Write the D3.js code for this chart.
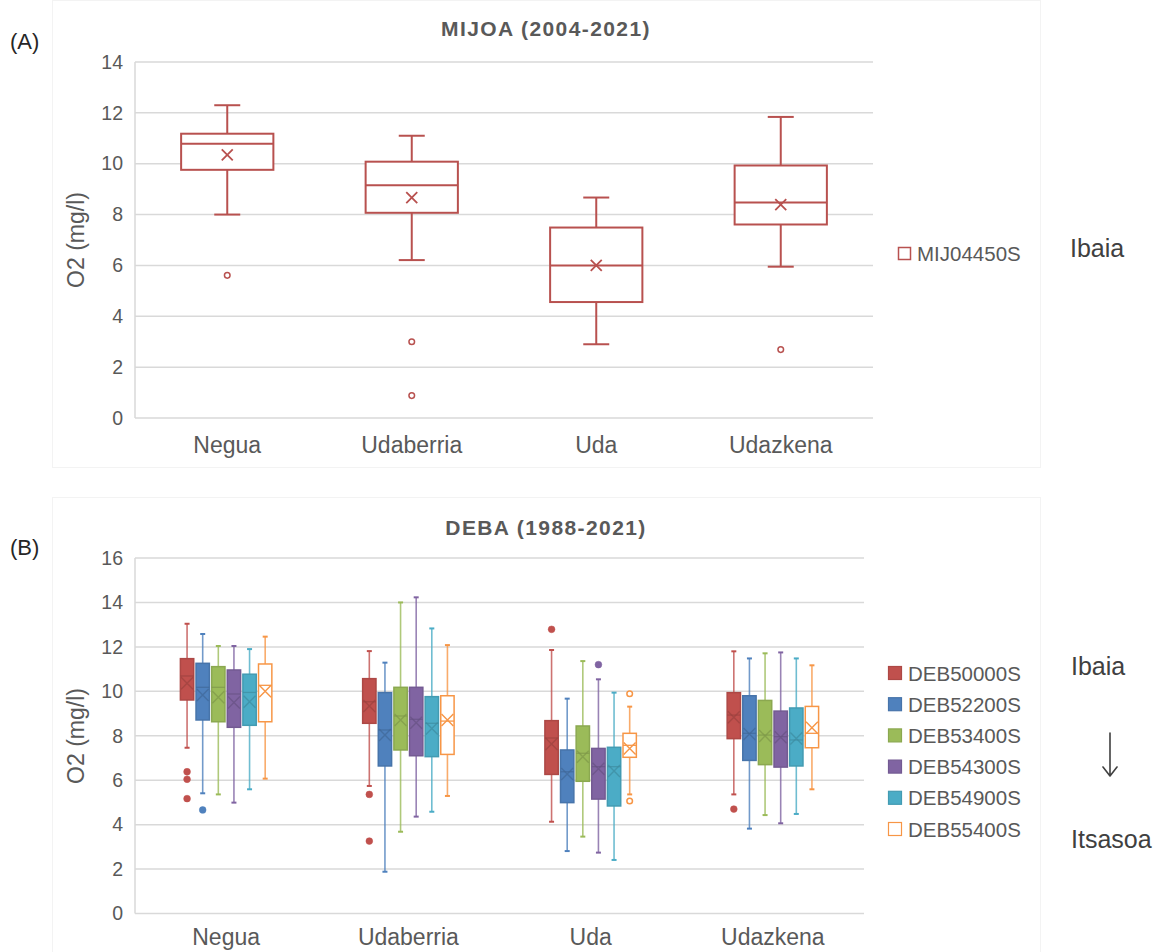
<!DOCTYPE html>
<html>
<head>
<meta charset="utf-8">
<script src="https://cdn.jsdelivr.net/npm/d3@7"></script>
<style>
  html, body { margin: 0; padding: 0; background: #fff; }
  svg { display: block; font-family: "Liberation Sans", Arial, sans-serif; }
</style>
</head>
<body>
<svg id="chart" width="1161" height="952"></svg>
<script>
// Seasons (x categories)
const seasons = ["Negua", "Udaberria", "Uda", "Udazkena"];

// ---- Panel A: MIJOA, one station ----
const mijoaStation = "MIJ04450S";
const mijoaLow     = [8.00, 6.21, 2.90, 5.95];
const mijoaQ1      = [9.76, 8.07, 4.56, 7.61];
const mijoaMedian  = [10.79, 9.15, 6.00, 8.47];
const mijoaQ3      = [11.18, 10.08, 7.49, 9.93];
const mijoaHigh    = [12.30, 11.10, 8.67, 11.84];
const mijoaMean    = [10.35, 8.67, 6.00, 8.39];
const mijoaOutliers = [[5.61], [3.00, 0.88], [], [2.69]];
const mijoaTicks   = [0, 2, 4, 6, 8, 10, 12, 14];

// ---- Panel B: DEBA, six stations (rows) x four seasons (columns) ----
const debaStations = ["DEB50000S", "DEB52200S", "DEB53400S", "DEB54300S", "DEB54900S", "DEB55400S"];
const debaLow = [
  [7.46, 5.74, 4.13, 5.36],
  [5.41, 1.88, 2.81, 3.82],
  [5.36, 3.68, 3.46, 4.43],
  [4.99, 4.36, 2.74, 4.06],
  [5.59, 4.58, 2.41, 4.48],
  [6.07, 5.29, 5.36, 5.59]
];
const debaQ1 = [
  [9.61, 8.56, 6.26, 7.87],
  [8.71, 6.64, 4.99, 6.89],
  [8.63, 7.36, 5.95, 6.70],
  [8.38, 7.10, 5.15, 6.59],
  [8.47, 7.06, 4.84, 6.64],
  [8.63, 7.16, 7.03, 7.46]
];
const debaMedian = [
  [10.69, 9.53, 7.90, 8.93],
  [10.18, 8.26, 6.38, 8.11],
  [10.18, 8.89, 7.21, 8.03],
  [9.88, 8.74, 6.61, 7.96],
  [9.95, 8.56, 6.61, 7.81],
  [10.27, 8.66, 7.57, 8.11]
];
const debaQ3 = [
  [11.47, 10.57, 8.68, 9.94],
  [11.26, 9.94, 7.36, 9.80],
  [11.11, 10.18, 8.44, 9.59],
  [10.96, 10.18, 7.43, 9.11],
  [10.77, 9.76, 7.48, 9.25],
  [11.23, 9.80, 8.11, 9.32]
];
const debaHigh = [
  [13.04, 11.81, 11.86, 11.80],
  [12.58, 11.29, 9.67, 11.48],
  [12.04, 14.00, 11.36, 11.71],
  [12.04, 14.23, 10.54, 11.75],
  [11.90, 12.83, 9.94, 11.48],
  [12.46, 12.08, 9.31, 11.17]
];
const debaMean = [
  [10.36, 9.34, 7.63, 8.83],
  [9.83, 8.03, 6.28, 8.08],
  [9.73, 8.71, 7.06, 7.99],
  [9.50, 8.59, 6.52, 7.93],
  [9.53, 8.33, 6.41, 7.88],
  [10.00, 8.71, 7.43, 8.36]
];
const debaOutliers = [
  [[6.38, 6.04, 5.17], [5.36, 3.26], [12.79], [4.70]],
  [[4.66], [], [], []],
  [[], [], [], []],
  [[], [], [11.20], []],
  [[], [], [], []],
  [[], [], [9.89, 5.06], []]
];
const debaTicks = [0, 2, 4, 6, 8, 10, 12, 14, 16];
const debaColors = ["#c0504d", "#4f81bd", "#9bbb59", "#8064a2", "#4bacc6", "#f79646"];
const debaHollow = [false, false, false, false, false, true];

const svg = d3.select("#chart");
const textGrey = "#595959";
const gridGrey = "#d9d9d9";

// Faint frames around each panel
svg.append("rect").attr("x", 52.5).attr("y", 0.5).attr("width", 988).attr("height", 467)
  .attr("fill", "none").attr("stroke", "#f3f3f3");
svg.append("rect").attr("x", 52.5).attr("y", 497.5).attr("width", 988).attr("height", 470)
  .attr("fill", "none").attr("stroke", "#f3f3f3");

function drawFrame(g, x0, y, ticks, left, right, title, titleY, catY, yMid) {
  // gridlines
  g.append("g").selectAll("line").data(ticks).join("line")
    .attr("x1", left).attr("x2", right)
    .attr("y1", d => y(d)).attr("y2", d => y(d))
    .attr("stroke", gridGrey).attr("stroke-width", 1.5);
  // left axis line
  g.append("line").attr("x1", left).attr("x2", left)
    .attr("y1", y(ticks[ticks.length - 1])).attr("y2", y(0))
    .attr("stroke", gridGrey).attr("stroke-width", 1.5);
  // y tick labels via d3 axis
  const ax = g.append("g").attr("transform", `translate(${left - 12},0)`)
    .call(d3.axisLeft(y).tickValues(ticks).tickSize(0).tickPadding(0));
  ax.select(".domain").remove();
  ax.selectAll("text").attr("fill", textGrey).style("font-size", "19.5px")
    .style("font-family", "Liberation Sans, Arial, sans-serif");
  // x category labels
  const bx = g.append("g").attr("transform", `translate(0,${catY})`)
    .call(d3.axisBottom(x0).tickSize(0).tickPadding(0));
  bx.select(".domain").remove();
  bx.selectAll("text").attr("fill", textGrey).attr("dy", 0).style("font-size", "23px")
    .style("font-family", "Liberation Sans, Arial, sans-serif");
  // title
  g.append("text").attr("x", 546).attr("y", titleY).attr("text-anchor", "middle")
    .attr("fill", textGrey).style("font-size", "21px").style("font-weight", "bold")
    .style("letter-spacing", "1.4px").text(title);
  // y axis title
  g.append("text").attr("transform", `translate(84,${yMid}) rotate(-90)`)
    .attr("text-anchor", "middle").attr("fill", textGrey).style("font-size", "23px")
    .text("O2 (mg/l)");
}

// ================= Panel A =================
{
  const left = 135, right = 873;
  const y = d3.scaleLinear().domain([0, 14]).range([418, 62]);
  const x0 = d3.scaleBand().domain(seasons).range([left, right]).paddingInner(0.5).paddingOuter(0.25);
  const g = svg.append("g");
  drawFrame(g, x0, y, mijoaTicks, left, right, "MIJOA (2004-2021)", 36, 453, 240);

  const col = "#b8514f";
  const bw = x0.bandwidth();
  seasons.forEach((s, i) => {
    const xl = x0(s), cx = xl + bw / 2;
    const bg = g.append("g").attr("stroke", col).attr("fill", "none").attr("stroke-width", 2);
    // whiskers
    bg.append("line").attr("x1", cx).attr("x2", cx).attr("y1", y(mijoaHigh[i])).attr("y2", y(mijoaQ3[i]));
    bg.append("line").attr("x1", cx).attr("x2", cx).attr("y1", y(mijoaLow[i])).attr("y2", y(mijoaQ1[i]));
    bg.append("line").attr("x1", cx - 13).attr("x2", cx + 13).attr("y1", y(mijoaHigh[i])).attr("y2", y(mijoaHigh[i]));
    bg.append("line").attr("x1", cx - 13).attr("x2", cx + 13).attr("y1", y(mijoaLow[i])).attr("y2", y(mijoaLow[i]));
    // box
    bg.append("rect").attr("x", xl).attr("y", y(mijoaQ3[i]))
      .attr("width", bw).attr("height", y(mijoaQ1[i]) - y(mijoaQ3[i])).attr("fill", "#fff");
    bg.append("line").attr("x1", xl).attr("x2", xl + bw).attr("y1", y(mijoaMedian[i])).attr("y2", y(mijoaMedian[i]));
    // mean marker
    const my = y(mijoaMean[i]), m = 5.5;
    bg.append("path").attr("d", `M${cx - m},${my - m}L${cx + m},${my + m}M${cx - m},${my + m}L${cx + m},${my - m}`)
      .attr("stroke-width", 1.8);
    // outliers
    bg.selectAll("circle").data(mijoaOutliers[i]).join("circle")
      .attr("cx", cx).attr("cy", d => y(d)).attr("r", 2.8).attr("stroke-width", 1.5).attr("fill", "#fff");
  });

  // legend
  g.append("rect").attr("x", 898.5).attr("y", 247.5).attr("width", 12).attr("height", 12)
    .attr("fill", "#fff").attr("stroke", col).attr("stroke-width", 1.5);
  g.append("text").attr("x", 917).attr("y", 261).attr("fill", textGrey)
    .style("font-size", "20.5px").text(mijoaStation);
  g.append("text").attr("x", 1070).attr("y", 257).attr("fill", "#404040")
    .style("font-size", "25px").text("Ibaia");
  svg.append("text").attr("x", 10).attr("y", 49).attr("fill", "#262626")
    .style("font-size", "22px").text("(A)");
}

// ================= Panel B =================
{
  const left = 135, right = 864;
  const y = d3.scaleLinear().domain([0, 16]).range([913.5, 558]);
  const x0 = d3.scaleBand().domain(seasons).range([left, right]).paddingInner(0.49).paddingOuter(0.245);
  const x1 = d3.scaleBand().domain(debaStations).range([0, x0.bandwidth()]).paddingInner(0.05);
  const g = svg.append("g");
  drawFrame(g, x0, y, debaTicks, left, right, "DEBA (1988-2021)", 535, 945, 736);

  const bw = x1.bandwidth();
  debaStations.forEach((st, k) => {
    const c = debaColors[k];
    const dark = d3.color(c).darker(0.6).formatHex();
    const edge = d3.color(c).darker(0.3).formatHex();
    const hollow = debaHollow[k];
    seasons.forEach((s, i) => {
      const xl = x0(s) + x1(st), cx = xl + bw / 2;
      const bg = g.append("g");
      // whiskers
      bg.append("line").attr("x1", cx).attr("x2", cx).attr("y1", y(debaHigh[k][i])).attr("y2", y(debaLow[k][i]))
        .attr("stroke", c).attr("stroke-width", 1.6).attr("stroke-opacity", 0.8);
      [debaHigh[k][i], debaLow[k][i]].forEach(v => {
        bg.append("line").attr("x1", cx - 2.5).attr("x2", cx + 2.5).attr("y1", y(v)).attr("y2", y(v))
          .attr("stroke", c).attr("stroke-width", 2);
      });
      // box
      bg.append("rect").attr("x", xl + 0.75).attr("y", y(debaQ3[k][i]))
        .attr("width", bw - 1.5).attr("height", y(debaQ1[k][i]) - y(debaQ3[k][i]))
        .attr("fill", hollow ? "#fff" : c).attr("stroke", hollow ? c : edge).attr("stroke-width", 1.5);
      // median
      bg.append("line").attr("x1", xl + 0.75).attr("x2", xl + bw - 0.75)
        .attr("y1", y(debaMedian[k][i])).attr("y2", y(debaMedian[k][i]))
        .attr("stroke", hollow ? c : dark).attr("stroke-width", 1.3).attr("stroke-opacity", hollow ? 1 : 0.7);
      // mean marker
      const my = y(debaMean[k][i]), mx = bw / 2 - 1.5, mh = 6;
      bg.append("path").attr("d", `M${cx - mx},${my - mh}L${cx + mx},${my + mh}M${cx - mx},${my + mh}L${cx + mx},${my - mh}`)
        .attr("fill", "none").attr("stroke", hollow ? c : dark).attr("stroke-width", 1.4)
        .attr("stroke-opacity", hollow ? 1 : 0.7);
      // outliers
      bg.selectAll("circle").data(debaOutliers[k][i]).join("circle")
        .attr("cx", cx).attr("cy", d => y(d)).attr("r", hollow ? 2.8 : 3.4)
        .attr("fill", hollow ? "#fff" : c).attr("stroke", c).attr("stroke-width", hollow ? 1.5 : 0.5);
    });
  });

  // legend
  const lg = g.append("g");
  const rowY = d3.scalePoint().domain(debaStations).range([673, 829]);
  debaStations.forEach((st, k) => {
    const cy = rowY(st);
    lg.append("rect").attr("x", 888.5).attr("y", cy - 6.5).attr("width", 13).attr("height", 13)
      .attr("fill", debaHollow[k] ? "#fff" : debaColors[k])
      .attr("stroke", debaHollow[k] ? debaColors[k] : d3.color(debaColors[k]).darker(0.3).formatHex())
      .attr("stroke-width", 1.2);
    lg.append("text").attr("x", 908).attr("y", cy + 7.5).attr("fill", textGrey)
      .style("font-size", "20.5px").text(st);
  });
  g.append("text").attr("x", 1071).attr("y", 675).attr("fill", "#404040")
    .style("font-size", "25px").text("Ibaia");
  g.append("text").attr("x", 1071).attr("y", 848).attr("fill", "#404040")
    .style("font-size", "25px").text("Itsasoa");
  // downstream arrow (river → sea)
  g.append("path").attr("d", "M1110,733V776M1103,767L1110,776L1117,767")
    .attr("fill", "none").attr("stroke", "#404040").attr("stroke-width", 1.6)
    .attr("stroke-linecap", "round").attr("stroke-linejoin", "round");
  svg.append("text").attr("x", 10).attr("y", 555).attr("fill", "#262626")
    .style("font-size", "22px").text("(B)");
}
</script>
</body>
</html>
